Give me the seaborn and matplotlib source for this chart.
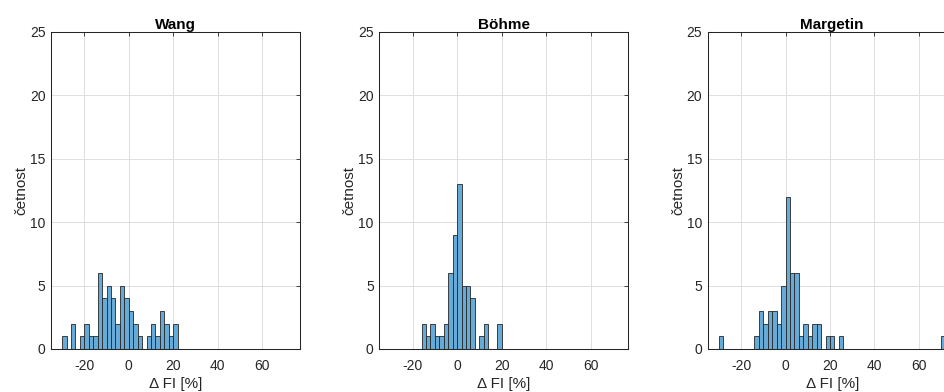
import numpy as np
import pandas as pd
import matplotlib
matplotlib.use("Agg")
import matplotlib.pyplot as plt
import seaborn as sns

# Histogram bins for the relative FI difference [%]: 2 % wide, -30 .. 72
bin_start, bin_stop, bin_width = -30, 72, 2

titles = ["Wang", "Böhme", "Margetin"]

# Counts per 2 % bin, from [-30, -28) to [70, 72]
wang_counts = [1, 0, 2, 0, 1, 2, 1, 1, 6, 4, 5, 4, 2, 5, 4, 3, 2, 1, 0, 1,
               2, 1, 3, 2, 1, 2, 0, 0, 0, 0, 0, 0, 0, 0, 0, 0, 0, 0, 0, 0,
               0, 0, 0, 0, 0, 0, 0, 0, 0, 0, 0]
bohme_counts = [0, 0, 0, 0, 0, 0, 0, 2, 1, 2, 1, 1, 2, 6, 9, 13, 5, 5, 4, 0,
                1, 2, 0, 0, 2, 0, 0, 0, 0, 0, 0, 0, 0, 0, 0, 0, 0, 0, 0, 0,
                0, 0, 0, 0, 0, 0, 0, 0, 0, 0, 0]
margetin_counts = [1, 0, 0, 0, 0, 0, 0, 0, 1, 3, 2, 3, 3, 2, 5, 12, 6, 6, 1, 2,
                   1, 2, 2, 0, 1, 1, 0, 1, 0, 0, 0, 0, 0, 0, 0, 0, 0, 0, 0, 0,
                   0, 0, 0, 0, 0, 0, 0, 0, 0, 0, 1]

x_ticks = [-20, 0, 20, 40, 60]
y_ticks = [0, 5, 10, 15, 20, 25]
x_label = "\u0394 FI [%]"
y_label = "četnost"

sns.set_theme(style="white")
plt.rcParams["font.family"] = ["Liberation Sans", "DejaVu Sans"]
plt.rcParams["axes.unicode_minus"] = False

ink = "#262626"
face = "#66AAD7"
grid_c = "#DFDFDF"

fig = plt.figure(figsize=(9.44, 3.92), dpi=100, facecolor="white")
lefts = [0.054, 0.4018, 0.7497]
all_counts = [wang_counts, bohme_counts, margetin_counts]
centers = np.arange(bin_start, bin_stop, bin_width) + bin_width / 2

for left, title, counts in zip(lefts, titles, all_counts):
    ax = fig.add_axes([left, 0.1097, 0.2638, 0.8087])
    df = pd.DataFrame({"delta": centers, "count": counts})
    sns.histplot(data=df, x="delta", weights="count", binwidth=bin_width,
                 binrange=(bin_start, bin_stop), ax=ax,
                 facecolor=face, edgecolor=ink, linewidth=0.6, alpha=1)
    ax.set_xlim(-35, 77)
    ax.set_ylim(0, 25)
    ax.set_xticks(x_ticks)
    ax.set_yticks(y_ticks)
    ax.set_axisbelow(True)
    ax.grid(True, color=grid_c, linewidth=0.7)
    for sp in ax.spines.values():
        sp.set_visible(True)
        sp.set_color(ink)
        sp.set_linewidth(0.75)
    ax.tick_params(direction="in", length=3, width=0.6, top=True, right=True,
                   colors=ink, labelsize=10)
    ax.tick_params(axis="x", pad=7)
    ax.tick_params(axis="y", pad=4)
    ax.set_title(title, fontsize=11, fontweight="bold", color="black", pad=2)
    ax.set_xlabel(x_label, fontsize=11, color=ink, labelpad=3)
    ax.set_ylabel(y_label, fontsize=11, color=ink, labelpad=1)

fig.savefig("out.png", dpi=100, facecolor="white")
